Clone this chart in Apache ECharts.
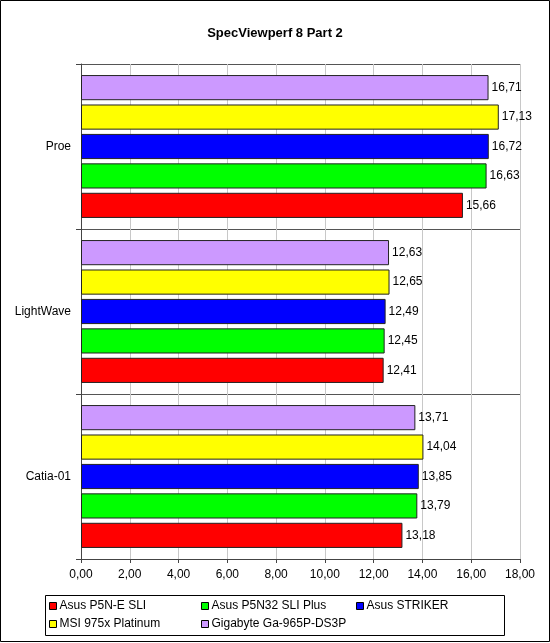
<!DOCTYPE html>
<html>
<head>
<meta charset="utf-8">
<script src="https://cdn.jsdelivr.net/npm/echarts@6/dist/echarts.min.js"></script>
<style>
html,body{margin:0;padding:0;background:#fff;}
#chart{width:550px;height:643px;}
</style>
</head>
<body>
<div id="chart"></div>
<script>
// 数据
var categories = ['Catia-01', 'LightWave', 'Proe'];
var seriesNames = ['Asus P5N-E SLI', 'Asus P5N32 SLI Plus', 'Asus STRIKER', 'MSI 975x Platinum', 'Gigabyte Ga-965P-DS3P'];
var p5ne = [13.18, 12.41, 15.66];
var p5n32 = [13.79, 12.45, 16.63];
var striker = [13.85, 12.49, 16.72];
var msi975 = [14.04, 12.65, 17.13];
var gigabyte = [13.71, 12.63, 16.71];
var colors = ['#ff0000', '#00ff00', '#0000ff', '#ffff00', '#cc99ff'];

var allData = [p5ne, p5n32, striker, msi975, gigabyte];
var font = 'Arial, Liberation Sans';

function fmt(v) {
    return Number(v).toFixed(2).replace('.', ',');
}

var myChart = echarts.init(document.getElementById('chart'));

// 横向柱状图第一个系列在最上面，所以倒序加入
var series = [];
for (var i = seriesNames.length - 1; i >= 0; i--) {
    series.push({
        name: seriesNames[i],
        type: 'bar',
        data: allData[i],
        barGap: '17%',
        barCategoryGap: '13.4%',
        itemStyle: { color: colors[i], borderColor: '#222', borderWidth: 1 },
        label: {
            show: true,
            position: 'right',
            distance: 3,
            color: '#000',
            fontFamily: font,
            fontSize: 12,
            formatter: function (p) { return fmt(p.value); }
        }
    });
}

// 图例位置 (每个系列一个)
var legendPos = [[49, 600], [201, 600], [356, 600], [49, 618], [201, 618]];
var legends = [];
for (var j = 0; j < seriesNames.length; j++) {
    legends.push({
        data: [{ name: seriesNames[j], icon: 'rect', itemStyle: { borderColor: '#000', borderWidth: 1 } }],
        left: legendPos[j][0],
        top: legendPos[j][1],
        itemWidth: 7,
        itemHeight: 7,
        padding: 0,
        itemGap: 4,
        selectedMode: false,
        textStyle: { color: '#000', fontFamily: font, fontSize: 12, padding: [0, 0, 0, -2] }
    });
}

var option = {
    backgroundColor: '#fff',
    animation: false,
    title: {
        text: 'SpecViewperf 8 Part 2',
        left: 'center',
        top: 22,
        textStyle: { color: '#000', fontFamily: font, fontSize: 13, fontWeight: 'bold' }
    },
    legend: legends,
    grid: { left: 81, right: 30, top: 64, bottom: 84 },
    xAxis: {
        type: 'value',
        min: 0,
        max: 18,
        interval: 2,
        axisLine: { show: true, lineStyle: { color: '#444' } },
        axisTick: { show: true, length: 4, lineStyle: { color: '#444' } },
        axisLabel: { color: '#000', fontFamily: font, fontSize: 12, margin: 10, formatter: fmt },
        splitLine: { show: true, lineStyle: { color: '#c8c8c8' } }
    },
    yAxis: {
        type: 'category',
        data: categories,
        axisLine: { show: true, lineStyle: { color: '#444' } },
        axisTick: { show: true, length: 5, lineStyle: { color: '#444' } },
        axisLabel: { color: '#000', fontFamily: font, fontSize: 12, margin: 10 },
        splitLine: { show: true, lineStyle: { color: '#555' } }
    },
    graphic: [
        { type: 'rect', shape: { x: 0.5, y: 0.5, width: 549, height: 641 }, style: { fill: null, stroke: '#000', lineWidth: 1 }, silent: true },
        { type: 'rect', shape: { x: 45.5, y: 595.5, width: 459, height: 40 }, style: { fill: null, stroke: '#000', lineWidth: 1 }, silent: true },
        { type: 'line', shape: { x1: 520.5, y1: 64, x2: 520.5, y2: 559 }, style: { stroke: '#888', lineWidth: 1 }, silent: true }
    ],
    series: series
};

myChart.setOption(option);
</script>
</body>
</html>
